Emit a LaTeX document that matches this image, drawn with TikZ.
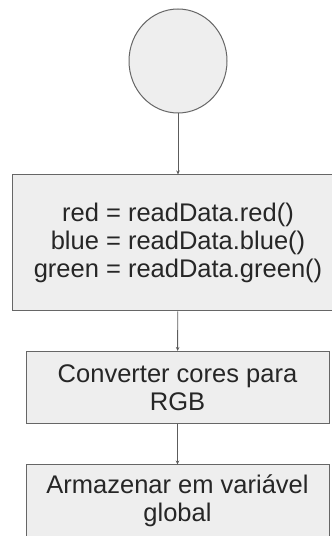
\documentclass[tikz,border=0pt]{standalone}
\usepackage{fontspec}
\setmainfont{Liberation Sans}
\usepackage{tikz}
\usetikzlibrary{shapes.geometric,arrows.meta}
\definecolor{boxfill}{HTML}{EEEEEE}
\definecolor{boxline}{HTML}{666666}

\begin{document}
\begin{tikzpicture}
[
x=1pt, y=1pt,
every node/.style={draw=boxline, fill=boxfill, line width=1pt, inner sep=0pt,
	font=\fontsize{25.5}{28}\selectfont, text=black!85, align=center},
startnode/.style={ellipse, minimum width=98pt, minimum height=104pt},
procbox/.style={rectangle, minimum height=72pt},
flow/.style={draw=boxline!90!black, line width=0.9pt, -{Stealth[length=4pt,width=3.5pt]}}
]
\useasboundingbox (0,0) rectangle (332,536);

\node[startnode] (start) at (178,475) {};
\node[procbox, minimum width=332pt, minimum height=136pt] (read) at (178,293)
	{red = readData.red()\\ blue = readData.blue()\\ green = readData.green()};
\node[procbox, minimum width=303pt] (conv) at (177.5,148.5)
	{Converter cores para\\ RGB};
\node[procbox, minimum width=303pt] (store) at (177.5,35)
	{Armazenar em variável\\ global};

\draw[flow] (start) -- (read);
\draw[flow] (read) -- (conv);
\draw[flow] (conv) -- (store);
\end{tikzpicture}
\end{document}
